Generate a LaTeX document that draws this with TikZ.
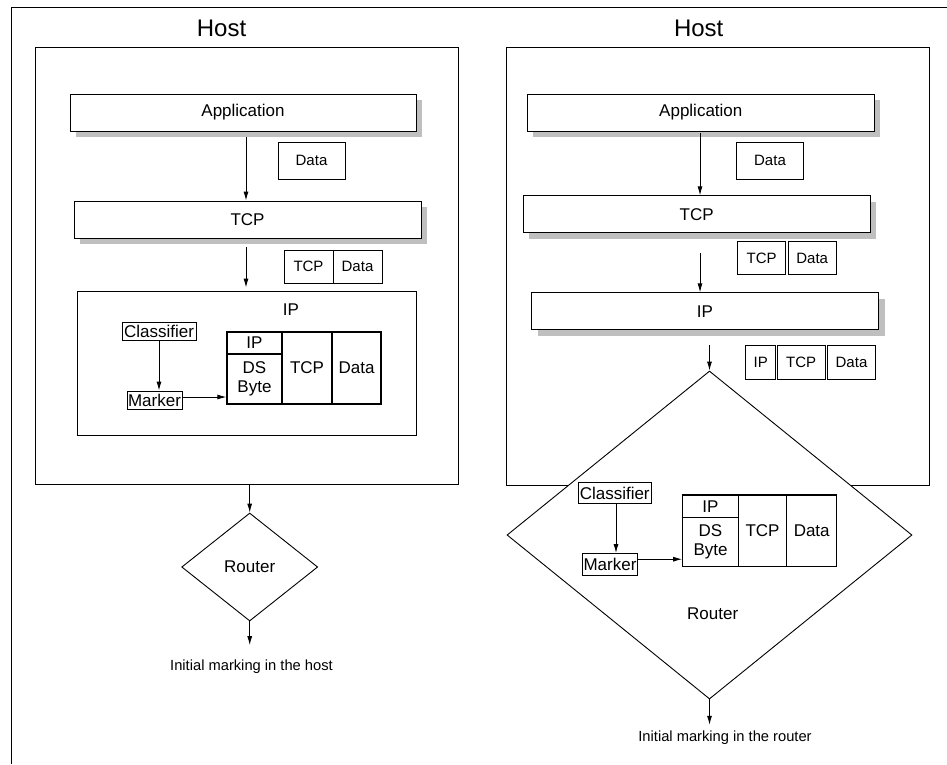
\documentclass[tikz,border=0pt]{standalone}
\usepackage{fontspec}
\setmainfont{Liberation Sans}
\usetikzlibrary{arrows.meta,shapes.geometric,shadows}
\begin{document}
\begin{tikzpicture}[x=1pt,y=-1pt,
  box/.style={draw, fill=white, inner sep=0pt, line width=0.9pt},
  layer/.style={box, general shadow={fill=black!25, shadow xshift=6pt, shadow yshift=-6pt}, font=\fontsize{17}{20}\selectfont},
  pk/.style={box, font=\fontsize{15}{18}\selectfont},
  cell/.style={box, line width=1.3pt, font=\fontsize{17}{19}\selectfont, align=center},
  tag/.style={box, font=\fontsize{17}{19}\selectfont},
  arr/.style={draw, line width=0.9pt, -{Latex[length=9pt,width=5pt]}},
  hostbox/.style={draw, line width=1pt, inner sep=0pt},
  hostlbl/.style={font=\fontsize{24}{28}\selectfont},
  note/.style={font=\fontsize{14.7}{17}\selectfont, inner sep=0pt, anchor=base},
  plain/.style={font=\fontsize{17}{20}\selectfont, inner sep=0pt},
  router/.style={diamond, draw, fill=white, inner sep=0pt, line width=0.9pt, font=\fontsize{17}{20}\selectfont}
]
\useasboundingbox (0,0) rectangle (947,764);
% outer frame
\draw[line width=1.2pt] (947,7.5) -- (11.5,7.5) -- (11.5,764);

% ---------------- left: marking in the host
\node[hostlbl] (h1t) at (221.5,28) {Host};
\node[hostbox, minimum width=423pt, minimum height=437pt] (h1) at (246.5,265.5) {};
\node[layer, minimum width=346pt, minimum height=37pt] (app1) at (243,112.5) {Application};
\node[pk, minimum width=67pt, minimum height=37pt] (data1) at (311.5,160.5) {Data};
\node[layer, minimum width=347pt, minimum height=37pt] (tcp1) at (247.5,219.5) {TCP};
\node[pk, minimum width=49pt, minimum height=33pt] (tcpa1) at (308.5,266.5) {TCP};
\node[pk, minimum width=49pt, minimum height=33pt] (tcpb1) at (357.5,266.5) {Data};
\node[box, minimum width=339pt, minimum height=144pt] (ip1) at (246.5,363) {};
\node[plain] (ip1lbl) at (291,310) {IP};
\node[tag, minimum width=74pt, minimum height=18pt] (cls1) at (159,331) {Classifier};
\node[tag, minimum width=55pt, minimum height=18pt] (mk1) at (154.5,400) {Marker};
\node[cell, minimum width=55pt, minimum height=22pt] (ipc1) at (254.5,343) {IP};
\node[cell, minimum width=55pt, minimum height=50pt] (ds1) at (254.5,379) {DS\\Byte};
\node[cell, minimum width=50pt, minimum height=72pt] (tcpc1) at (307,368) {TCP};
\node[cell, minimum width=49pt, minimum height=72pt] (datc1) at (356.5,368) {Data};
\node[router, minimum width=136pt, minimum height=108pt] (r1) at (249.7,567) {Router};
\node[note] (init1) at (251.5,670) {Initial marking in the host};

\draw[arr, shorten <=6pt] ([xshift=3pt]app1.south) -- ([xshift=3pt]app1.south |- tcp1.north);
\draw[arr, shorten <=9pt, shorten >=3pt] ([xshift=-1.5pt]tcp1.south) -- ([xshift=-1.5pt]tcp1.south |- ip1.north);
\draw[arr] (cls1.south) -- (cls1.south |- mk1.north);
\draw[arr] ([yshift=3pt]mk1.east) -- ([yshift=3pt]mk1.east -| ds1.west);
\draw[arr] (h1.south -| r1.north) -- (r1.north);
\draw[arr, shorten >=14pt] (r1.south) -- (r1.south |- init1.north);

% ---------------- right: marking in the router
\node[hostlbl] (h2t) at (698.7,28) {Host};
\node[hostbox, minimum width=423pt, minimum height=438pt] (h2) at (717.5,266) {};
\node[layer, minimum width=347pt, minimum height=37pt] (app2) at (700.8,112.5) {Application};
\node[pk, minimum width=67pt, minimum height=37pt] (data2) at (770,160.5) {Data};
\node[layer, minimum width=347pt, minimum height=37pt] (tcp2) at (696.7,214.3) {TCP};
\node[pk, minimum width=48pt, minimum height=33pt] (tcpa2) at (761.7,258.2) {TCP};
\node[pk, minimum width=48pt, minimum height=33pt] (tcpb2) at (812.2,258.2) {Data};
\node[layer, minimum width=347pt, minimum height=37pt] (ip2) at (705,311.3) {IP};
\node[pk, minimum width=30pt, minimum height=34pt] (pip2) at (760.7,362.2) {IP};
\node[pk, minimum width=48pt, minimum height=34pt] (ptcp2) at (801.2,362.2) {TCP};
\node[pk, minimum width=48pt, minimum height=34pt] (pdat2) at (851.5,362.2) {Data};
\node[router, minimum width=405pt, minimum height=328pt] (r2) at (709.5,535) {};
\node[plain] (r2lbl) at (712.7,613.3) {Router};
\node[tag, minimum width=73pt, minimum height=20.5pt] (cls2) at (614.7,493) {Classifier};
\node[tag, minimum width=55pt, minimum height=21.5pt] (mk2) at (610,564.2) {Marker};
\node[cell, minimum width=55.5pt, minimum height=22.7pt] (ipc2) at (710.5,506.4) {IP};
\node[cell, minimum width=55.5pt, minimum height=49pt] (ds2) at (710.5,542.2) {DS\\Byte};
\node[cell, minimum width=48.4pt, minimum height=71.7pt] (tcpc2) at (762.5,530.9) {TCP};
\node[cell, minimum width=50pt, minimum height=71.7pt] (datc2) at (811.7,530.9) {Data};
\node[note] (init2) at (725,741.7) {Initial marking in the router};

\draw[arr, shorten <=2pt] ([xshift=-0.8pt]app2.south) -- ([xshift=-0.8pt]app2.south |- tcp2.north);
\draw[arr, shorten <=20pt] ([xshift=3.3pt]tcp2.south) -- ([xshift=3.3pt]tcp2.south |- ip2.north);
\draw[arr, shorten <=15pt] (ip2.south -| r2.north) -- (r2.north);
\draw[arr] ([xshift=1.3pt]cls2.south) -- ([xshift=1.3pt]cls2.south |- mk2.north);
\draw[arr] ([yshift=5pt]mk2.east) -- ([yshift=5pt]mk2.east -| ds2.west);
\draw[arr, shorten >=6pt] (r2.south) -- (r2.south |- init2.north);
\end{tikzpicture}
\end{document}
